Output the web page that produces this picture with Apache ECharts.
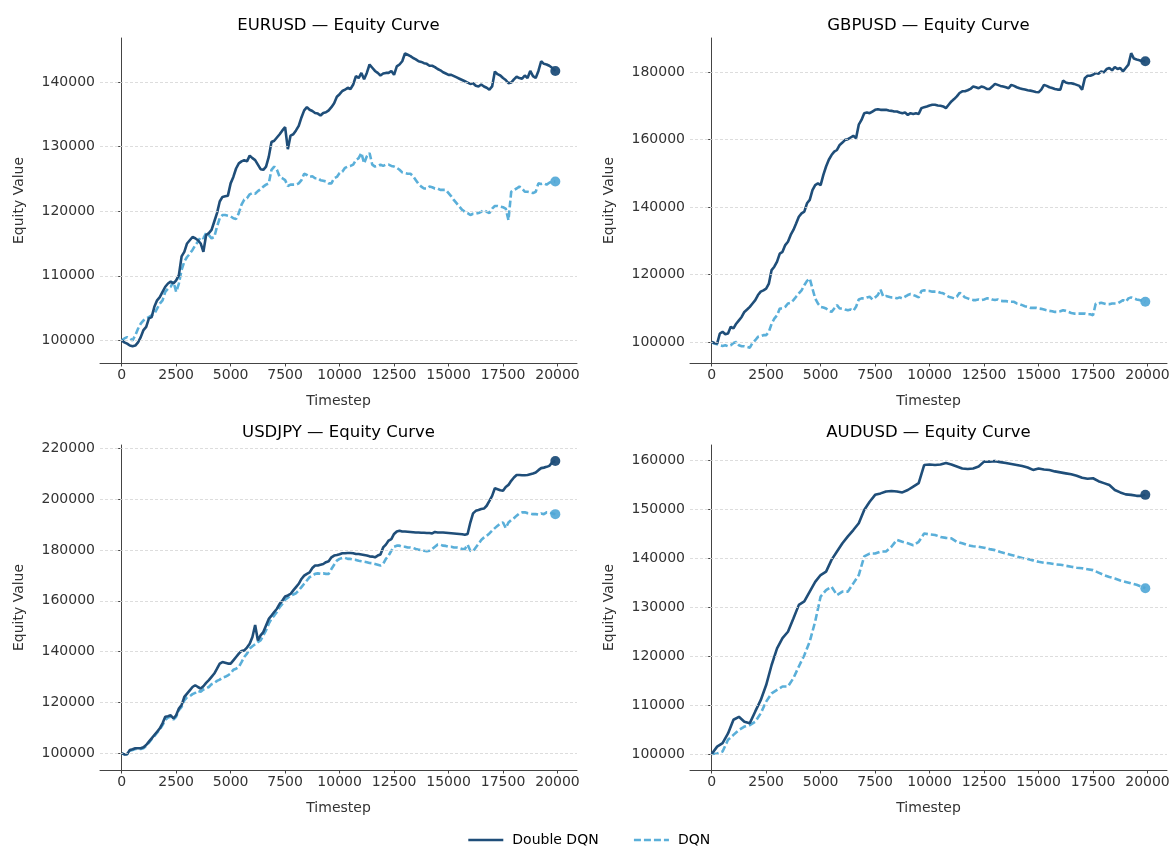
<!DOCTYPE html>
<html>
<head>
<meta charset="utf-8">
<script src="https://cdn.jsdelivr.net/npm/echarts@6/dist/echarts.min.js"></script>
<style>
html,body{margin:0;padding:0;background:#fff;}
#chart{width:1174px;height:847px;}
</style>
</head>
<body>
<div id="chart"></div>
<script>
// ---- data ----
// fine timestep grid (every 125 steps), one row = 1000 steps
const timestepsFine = [
  0,125,250,375,500,625,750,875,
  1000,1125,1250,1375,1500,1625,1750,1875,
  2000,2125,2250,2375,2500,2625,2750,2875,
  3000,3125,3250,3375,3500,3625,3750,3875,
  4000,4125,4250,4375,4500,4625,4750,4875,
  5000,5125,5250,5375,5500,5625,5750,5875,
  6000,6125,6250,6375,6500,6625,6750,6875,
  7000,7125,7250,7375,7500,7625,7750,7875,
  8000,8125,8250,8375,8500,8625,8750,8875,
  9000,9125,9250,9375,9500,9625,9750,9875,
  10000,10125,10250,10375,10500,10625,10750,10875,
  11000,11125,11250,11375,11500,11625,11750,11875,
  12000,12125,12250,12375,12500,12625,12750,12875,
  13000,13125,13250,13375,13500,13625,13750,13875,
  14000,14125,14250,14375,14500,14625,14750,14875,
  15000,15125,15250,15375,15500,15625,15750,15875,
  16000,16125,16250,16375,16500,16625,16750,16875,
  17000,17125,17250,17375,17500,17625,17750,17875,
  18000,18125,18250,18375,18500,18625,18750,18875,
  19000,19125,19250,19375,19500,19625,19750,19900
];
// coarse timestep grid (every 250 steps)
const timestepsCoarse = [
  0,250,500,750,1000,1250,1500,1750,2000,2250,
  2500,2750,3000,3250,3500,3750,4000,4250,4500,4750,
  5000,5250,5500,5750,6000,6250,6500,6750,7000,7250,
  7500,7750,8000,8250,8500,8750,9000,9250,9500,9750,
  10000,10250,10500,10750,11000,11250,11500,11750,12000,12250,
  12500,12750,13000,13250,13500,13750,14000,14250,14500,14750,
  15000,15250,15500,15750,16000,16250,16500,16750,17000,17250,
  17500,17750,18000,18250,18500,18750,19000,19250,19500,19750,
  19900
];
const pairs = ["EURUSD", "GBPUSD", "USDJPY", "AUDUSD"];
const seriesNames = ["Double DQN", "DQN"];
const xTicks = [0,2500,5000,7500,10000,12500,15000,17500,20000];

const eurusdDoubleDQN = [
  100000,99700,99500,99200,99100,99200,99700,100500,
  101600,102100,103400,103600,105200,106200,106700,107500,
  108300,108800,109100,108800,109300,110100,113000,113700,
  115000,115500,116000,115800,115500,115000,113700,116300,
  116600,117100,118400,119700,121500,122200,122300,122400,
  124300,125300,126600,127400,127700,127900,127700,128600,
  128200,127900,127200,126500,126400,126900,128400,130700,
  130900,131400,131900,132500,133000,129600,131700,131900,
  132500,133200,134500,135600,136100,135700,135500,135200,
  135100,134800,135200,135300,135600,136100,136700,137700,
  138100,138600,138800,139100,138900,139600,140900,140600,
  141400,140400,141400,142700,142200,141700,141400,141000,
  141300,141400,141400,141700,141100,142400,142700,143200,
  144400,144200,144000,143700,143500,143200,143100,142900,
  142800,142500,142500,142300,142000,141800,141500,141300,
  141100,141100,140900,140700,140500,140300,140100,139900,
  139700,139800,139400,139300,139600,139300,139100,138800,
  139300,141600,141200,141000,140600,140300,139800,139900,
  140400,140800,140600,140500,141000,140600,141700,140900,
  140600,141700,143200,142800,142700,142500,142200,141700
];
const eurusdDQN = [
  100000,100300,100500,100300,100000,100800,101800,102600,
  103100,103400,103600,103900,104100,104900,105700,106200,
  107500,108000,108300,109100,107500,108800,110900,112200,
  112900,113400,114000,114700,115300,116000,115800,116600,
  116300,115800,116000,117600,118900,119400,119400,119300,
  119200,118900,118800,119700,121000,121800,122000,122600,
  122800,122700,123100,123400,123800,124100,124300,126400,
  126900,126400,125300,125100,124800,123900,124100,124100,
  124100,124300,124800,125800,125600,125300,125400,125100,
  125100,124800,124700,124600,124300,124300,125100,125300,
  125900,126100,126700,126900,127000,127200,127900,128200,
  129000,127400,128500,129000,127200,126900,127000,127200,
  127000,127200,127200,127000,126900,126700,126400,126000,
  125900,125800,125800,125400,124800,124200,123800,123500,
  123500,123800,123700,123500,123500,123300,123300,123300,
  122800,122300,121700,121200,120700,120200,119900,119700,
  119400,119600,119600,119700,119900,120200,119900,119700,
  120400,120800,120800,120700,120600,120400,118600,123000,
  123300,123500,123800,123500,123000,123000,122900,122800,
  123000,124300,124200,124300,124100,124400,124600,124600
];
const gbpusdDoubleDQN = [
  100000,99700,99500,102500,103000,102300,102500,104500,
  104000,105400,106400,107400,108900,109600,110400,111400,
  112400,113900,114900,115300,115800,117300,121300,122300,
  123800,126200,126700,128700,129700,131700,133200,135100,
  137100,138100,138600,141100,142100,145000,146500,147000,
  146500,149500,152000,154000,155400,156400,156900,158400,
  159100,159900,160100,160600,161100,160400,164400,165800,
  167800,168000,167800,168300,168800,169000,168800,168800,
  168800,168600,168500,168300,168300,168000,167800,168000,
  167300,167800,167600,167800,167600,169300,169600,169800,
  170100,170300,170300,170100,170000,169800,169300,170300,
  171300,172000,172800,173800,174300,174300,174600,175000,
  175700,175500,175200,175700,175500,175000,175000,175700,
  176500,176200,175900,175700,175500,175200,176200,175900,
  175500,175200,175000,174800,174600,174500,174300,174100,
  174000,174800,176200,175900,175500,175300,175000,174800,
  174800,177500,176900,176700,176700,176500,176200,175900,
  174800,178200,178900,178900,179200,179700,179500,180200,
  179900,180900,181200,180500,181500,180900,181200,180200,
  181200,182200,185600,184000,183700,183500,183200,183200
];
const gbpusdDQN = [
  100000,99500,99300,99000,98800,99000,98700,99000,
  99700,100000,99000,98700,98700,98500,98300,99700,
  100500,101500,101700,102000,102000,103000,105400,106900,
  107900,109900,109900,110400,111400,111600,112400,113400,
  114400,115300,116800,118100,118800,115800,112900,111400,
  110400,110200,109900,109200,108900,109900,110900,109900,
  109900,109600,109400,109600,109200,110400,112600,112900,
  112900,113200,113400,112600,113200,113900,115500,113400,
  113600,113400,113200,113200,112900,113200,112900,113400,
  113900,114200,113900,113600,113200,115100,115300,115100,
  115100,114900,114900,114900,114600,114400,113900,113400,
  113200,112900,113400,114600,113900,113200,112900,112600,
  112400,112400,112600,112400,112600,112900,112900,112600,
  112400,112600,112200,112100,112100,111900,111900,111900,
  111400,111200,110900,110600,110400,110100,110100,110100,
  109900,109800,109600,109400,109200,109100,108900,108900,
  109100,109400,109200,108900,108600,108400,108400,108400,
  108400,108400,108200,108200,107900,111400,111400,111600,
  111400,111200,111200,111400,111400,111400,111900,112400,
  111900,112900,113200,112900,112600,112400,112200,111900
];
const usdjpyDoubleDQN = [
  100000,99600,99700,101300,101600,102000,102000,102000,
  102400,103300,104600,105900,107200,108500,109800,111800,
  114400,114600,115000,113700,115000,117600,119000,122200,
  123500,124800,126100,126800,126100,125500,126400,127700,
  128800,130100,131400,133300,135300,135900,135600,135300,
  135300,136600,137900,139200,140300,140500,141600,143100,
  145800,150500,144400,146400,147700,150300,152900,154200,
  155600,156900,158800,160100,161700,162100,162700,164100,
  165400,166700,168600,169900,170600,171200,172900,173900,
  173900,174200,174500,175200,175600,177100,177800,178000,
  178300,178700,178700,178800,178800,178700,178400,178400,
  178200,178000,177800,177500,177400,177100,177800,178200,
  181000,182100,183700,184300,186300,187300,187600,187300,
  187300,187200,187100,187000,186900,186900,186800,186800,
  186700,186700,186500,187100,186900,186900,186900,186800,
  186700,186600,186500,186400,186300,186200,186000,186300,
  190800,194400,195400,195700,196100,196300,197400,199300,
  201300,204300,203900,203500,203300,204800,205600,207200,
  208500,209500,209500,209400,209400,209500,209800,210100,
  210500,211400,212200,212400,212700,213100,214400,215000
];
const usdjpyDQN = [
  100000,99600,99700,101000,101300,101700,101700,101700,
  102000,102900,104200,105600,106800,108100,109400,111100,
  113100,114100,114400,113300,114400,117000,118300,120900,
  122000,122500,123300,123800,124600,124200,125100,125500,
  126100,127200,127700,128500,129000,129800,130100,130700,
  131400,132900,133300,134000,135900,137900,139200,141200,
  142100,142900,143800,144400,146400,148400,151000,152900,
  154200,155600,157500,158800,160400,161200,162100,162500,
  163000,164100,165400,166700,168000,169300,169900,170600,
  170800,170600,170800,170600,170600,172500,174200,175800,
  176500,176900,176900,176500,176500,176200,176100,175800,
  175600,175400,175200,174900,174800,174500,174200,173900,
  174500,176500,177800,179700,181300,181700,181700,181300,
  181300,181000,181000,180800,180400,180100,180000,179700,
  179500,179700,180400,181300,182100,182100,181700,181600,
  181300,181300,181000,181000,180800,180400,180400,182100,
  179700,179500,181000,182400,183900,184900,185600,186500,
  187600,188600,189500,190500,190800,188600,190800,191800,
  192500,193500,194400,194800,194800,194500,194400,194100,
  194100,193900,194400,194100,194800,194800,194400,194100
];
const audusdDoubleDQN = [
  100000,101500,102200,104200,107000,107600,106600,106300,108700,111000,
  114100,118200,121600,123700,125000,127700,130500,131200,133200,135200,
  136600,137300,139700,141400,143100,144500,145800,147200,149900,151600,
  153000,153300,153700,153800,153700,153500,154000,154700,155400,159100,
  159200,159100,159200,159500,159200,158800,158400,158300,158400,158800,
  159800,159800,159900,159700,159500,159300,159100,158900,158600,158100,
  158400,158200,158100,157800,157600,157400,157200,156900,156500,156300,
  156400,155800,155400,155000,154000,153500,153100,153000,152800,152800,
  153000
];
const audusdDQN = [
  100000,100100,100500,102900,103900,104900,105600,105900,106600,108300,
  110700,112400,113100,113800,113800,115500,117900,120200,123000,127100,
  132200,133500,134200,132500,133200,133200,134900,136600,140400,141000,
  141000,141400,141400,142400,143800,143400,143100,142700,143400,145100,
  144900,144800,144400,144200,144100,143400,143100,142700,142500,142400,
  142200,141900,141700,141300,141000,140700,140400,140100,139900,139600,
  139300,139100,139000,138800,138700,138500,138300,138100,138000,137800,
  137600,137100,136600,136200,135900,135500,135200,134900,134600,134200,
  133900
];

const eurusdYTicks = [100000,110000,120000,130000,140000];
const gbpusdYTicks = [100000,120000,140000,160000,180000];
const usdjpyYTicks = [100000,120000,140000,160000,180000,200000,220000];
const audusdYTicks = [100000,110000,120000,130000,140000,150000,160000];

// ---- layout / style ----
const panelData = [
  {t: timestepsFine,   d: eurusdDoubleDQN, q: eurusdDQN, ticks: eurusdYTicks, ymin: 96500, ymax: 146800},
  {t: timestepsFine,   d: gbpusdDoubleDQN, q: gbpusdDQN, ticks: gbpusdYTicks, ymin: 93750, ymax: 190100},
  {t: timestepsFine,   d: usdjpyDoubleDQN, q: usdjpyDQN, ticks: usdjpyYTicks, ymin: 93450, ymax: 221300},
  {t: timestepsCoarse, d: audusdDoubleDQN, q: audusdDQN, ticks: audusdYTicks, ymin: 96720, ymax: 163200}
];
const gridPos = [
  {left: 100, top: 38, width: 477, height: 325},
  {left: 690, top: 38, width: 477, height: 325},
  {left: 100, top: 445, width: 477, height: 325},
  {left: 690, top: 445, width: 477, height: 325}
];
const darkBlue = '#1f4e79';
const lightBlue = '#5aafd9';
const textColor = '#333333';
const fontFamily = 'DejaVu Sans';
const plainNum = v => String(Math.round(v));

const grids = [], xAxes = [], yAxes = [], titles = [], series = [];
const toPairs = (ts, vals) => ts.map((t, i) => [t, vals[i]]);

panelData.forEach((p, i) => {
  const g = gridPos[i];
  grids.push(Object.assign({containLabel: false}, g));
  titles.push({
    text: pairs[i] + ' \u2014 Equity Curve',
    left: g.left + g.width / 2 - 5,
    top: g.top - 26,
    textAlign: 'center',
    textStyle: {fontFamily, fontSize: 16.5, fontWeight: 'normal', color: '#000'}
  });
  xAxes.push({
    type: 'value', gridIndex: i, min: -995, max: 20895,
    name: 'Timestep', nameLocation: 'middle', nameGap: 31,
    nameTextStyle: {fontFamily, fontSize: 14, color: textColor},
    axisLine: {show: true, onZero: false, lineStyle: {color: '#444', width: 1}},
    axisTick: {show: true, length: 3.5, customValues: xTicks, lineStyle: {color: '#444'}},
    axisLabel: {customValues: xTicks, margin: 5, fontFamily, fontSize: 14, color: textColor, formatter: plainNum},
    splitLine: {show: false}
  });
  yAxes.push({
    type: 'value', gridIndex: i, min: p.ymin, max: p.ymax,
    name: 'Equity Value', nameLocation: 'middle', nameGap: 74, nameRotate: 90,
    nameTextStyle: {fontFamily, fontSize: 14, color: textColor},
    axisLine: {show: true, lineStyle: {color: '#444', width: 1}},
    axisTick: {show: true, length: 3.5, customValues: p.ticks, lineStyle: {color: '#444'}},
    axisLabel: {customValues: p.ticks, margin: 5, fontFamily, fontSize: 14, color: textColor, formatter: plainNum},
    splitLine: {show: false}
  });
  // horizontal dashed gridlines
  series.push({
    type: 'line', xAxisIndex: i, yAxisIndex: i, data: [], z: 0, silent: true,
    markLine: {
      silent: true, symbol: ['none', 'none'], label: {show: false},
      lineStyle: {color: '#d4d4d4', type: [3, 2], width: 0.8},
      emphasis: {disabled: true},
      animation: false,
      data: p.ticks.map(v => ({yAxis: v}))
    }
  });
  series.push({
    name: seriesNames[0], type: 'line', xAxisIndex: i, yAxisIndex: i,
    data: toPairs(p.t, p.d), showSymbol: false, symbol: 'none', z: 3,
    lineStyle: {color: darkBlue, width: 2.6}, itemStyle: {color: darkBlue},
    emphasis: {disabled: true}
  });
  series.push({
    name: seriesNames[1], type: 'line', xAxisIndex: i, yAxisIndex: i,
    data: toPairs(p.t, p.q), showSymbol: false, symbol: 'none', z: 2,
    lineStyle: {color: lightBlue, width: 2.6, type: [7, 3]}, itemStyle: {color: lightBlue},
    emphasis: {disabled: true}
  });
  const last = p.t.length - 1;
  series.push({
    name: 'end-d', type: 'scatter', xAxisIndex: i, yAxisIndex: i, z: 4,
    data: [[p.t[last], p.d[last]]], symbolSize: 10,
    itemStyle: {color: darkBlue, opacity: 0.95}, silent: true
  });
  series.push({
    name: 'end-q', type: 'scatter', xAxisIndex: i, yAxisIndex: i, z: 4,
    data: [[p.t[last], p.q[last]]], symbolSize: 10,
    itemStyle: {color: '#4fa6d6', opacity: 0.9}, silent: true
  });
});

const chart = echarts.init(document.getElementById('chart'), null, {renderer: 'canvas'});
chart.setOption({
  animation: false,
  backgroundColor: '#ffffff',
  title: titles,
  grid: grids,
  xAxis: xAxes,
  yAxis: yAxes,
  legend: {
    data: seriesNames,
    left: 462, top: 828,
    itemWidth: 35, itemHeight: 14, itemGap: 34,
    itemStyle: {opacity: 0},
    lineStyle: {width: 2.6},
    textStyle: {fontFamily, fontSize: 14, color: '#000', padding: [0, 0, 0, 4]},
    selectedMode: false
  },
  series: series
});
</script>
</body>
</html>
